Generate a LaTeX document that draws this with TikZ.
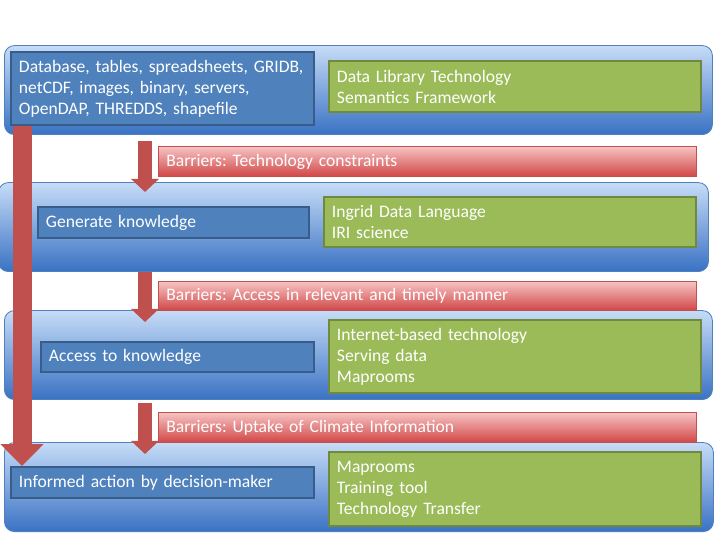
\documentclass[tikz,border=0pt]{standalone}
\usepackage{fontspec}
\setmainfont{Carlito}
\frenchspacing
\usetikzlibrary{arrows.meta}
%Cores
\definecolor{painelclaro}{HTML}{C6DCF7}
\definecolor{painelmeio}{HTML}{A8C8F0}
\definecolor{painelescuro}{HTML}{3A72C4}
\definecolor{painelborda}{HTML}{4F81BD}
\definecolor{azul}{HTML}{4F81BD}
\definecolor{azulborda}{HTML}{385D8A}
\definecolor{verde}{HTML}{9BBB59}
\definecolor{verdeborda}{HTML}{71893F}
\definecolor{rosa}{HTML}{F7C2C2}
\definecolor{vermelho}{HTML}{D04646}
\definecolor{corseta}{HTML}{C0504D}

\begin{document}
\begin{tikzpicture}[
	painel/.style={draw=painelborda, line width=0.6pt, rounded corners=0.25cm, top color=painelclaro, middle color=painelmeio, bottom color=painelescuro, anchor=south west, inner sep=0pt, minimum height=2.225cm},
	caixa/.style={draw=azulborda, line width=1.4pt, fill=azul, text=white, anchor=south west, inner xsep=0.2cm, inner ysep=0pt, align=left, font=\fontsize{12.5}{15}\selectfont},
	lista/.style={caixa, draw=verdeborda, fill=verde, text width=8.9cm},
	barra/.style={draw=corseta, line width=0.5pt, top color=rosa, bottom color=vermelho, text=white, anchor=south west, inner xsep=0.2cm, inner ysep=0pt, align=left, text width=13.05cm, minimum height=0.75cm, font=\fontsize{12.5}{15}\selectfont},
	seta/.style={draw=corseta, line width=0.35cm, -{Triangle[width=0.675cm,length=0.325cm]}},
	setagrande/.style={draw=corseta, line width=0.475cm, -{Triangle[width=1.05cm,length=0.55cm]}}
	] %Escala: 1 px = 0.025 cm
					\useasboundingbox (0,0) rectangle (18,13.5);
					\fill[white] (0,0) rectangle (18,13.5); %Fundo
						%Paineis
					\node[painel, minimum width=17.7cm] (pnl1) at (0.1,10.125) {};
					\node[painel, minimum width=17.75cm] (pnl2) at (-0.05,6.7) {};
					\node[painel, minimum width=17.7cm] (pnl3) at (0.1,3.5) {};
					\node[painel, minimum width=17.725cm] (pnl4) at (0.1,0.2) {};
						%Barreiras
					\node[barra] (bar1) at (3.95,9.075) {Barriers: Technology constraints};
					\node[barra, minimum height=0.725cm] (bar2) at (3.95,5.725) {Barriers: Access in relevant and timely manner};
					\node[barra] (bar3) at (3.95,2.425) {Barriers: Uptake of Climate Information};
						%Caixas azuis
					\node[caixa, text width=7.175cm, minimum height=1.825cm] (bx1) at (0.25,10.35) {Database, tables, spreadsheets, GRIDB,\\netCDF, images, binary, servers,\\OpenDAP, THREDDS, shapefile};
					\node[caixa, text width=6.375cm, minimum height=0.775cm] (bx2) at (0.925,7.525) {Generate knowledge};
					\node[caixa, text width=6.425cm, minimum height=0.75cm] (bx3) at (1.0,4.175) {Access to knowledge};
					\node[caixa, text width=7.175cm, minimum height=0.775cm] (bx4) at (0.25,1.025) {Informed action by decision-maker};
						%Caixas verdes
					\node[lista, minimum height=1.275cm] (gr1) at (8.2,10.675) {Data Library Technology\\Semantics Framework};
					\node[lista, minimum height=1.25cm] (gr2) at (8.075,7.3) {Ingrid Data Language\\IRI science};
					\node[lista, minimum height=1.825cm] (gr3) at (8.2,3.65) {Internet-based technology\\Serving data\\Maprooms};
					\node[lista, minimum height=1.85cm] (gr4) at (8.2,0.325) {Maprooms\\Training tool\\Technology Transfer};
						%Setas
					\coordinate (xg) at (0.55,0);
					\coordinate (a1) at (3.625,9.975);
					\coordinate (b1) at (3.625,8.7);
					\coordinate (a2) at (3.625,6.7);
					\coordinate (b2) at (3.625,5.45);
					\coordinate (a3) at (3.625,3.425);
					\coordinate (b3) at (3.625,2.15);
					
					\draw[seta] (a1) -- (b1);
					\draw[seta] (a2) -- (b2);
					\draw[seta] (a3) -- (b3);
					\draw[setagrande] (bx1.south -| xg) -- (bx4.north -| xg); %Seta lateral
\end{tikzpicture}
\end{document}
